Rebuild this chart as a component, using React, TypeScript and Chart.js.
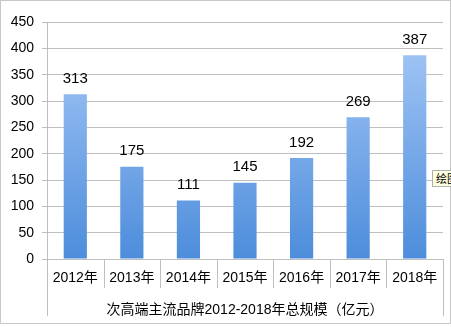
import React, { useEffect, useRef } from "react";
import { Chart, registerables } from "chart.js";

Chart.register(...registerables);

const categories = ["2012年", "2013年", "2014年", "2015年", "2016年", "2017年", "2018年"];
const values = [313, 175, 111, 145, 192, 269, 387];
const axisTitle = "次高端主流品牌2012-2018年总规模（亿元）";
const yMax = 450;
const yStep = 50;

const FONT = '"Liberation Sans", "Noto Sans CJK SC", sans-serif';

const separatorPlugin = {
  id: "separators",
  afterDraw(chart: any) {
    const { ctx, chartArea, scales } = chart;
    const x = scales.x;
    const n = categories.length;
    const w = (chartArea.right - chartArea.left) / n;
    ctx.save();
    ctx.strokeStyle = "#bfbfbf";
    ctx.lineWidth = 1;
    for (let i = 0; i <= n; i++) {
      const px = Math.round(x.getPixelForValue(i) - w / 2) + 0.5;
      const long = i === 0 || i === n;
      ctx.beginPath();
      ctx.moveTo(px, chartArea.bottom);
      ctx.lineTo(px, chartArea.bottom + (long ? 57 : 29));
      ctx.stroke();
    }
    ctx.restore();
  },
};

const labelPlugin = {
  id: "barLabels",
  afterDatasetsDraw(chart: any) {
    const { ctx } = chart;
    const meta = chart.getDatasetMeta(0);
    ctx.save();
    ctx.fillStyle = "#000";
    ctx.font = `15px ${FONT}`;
    ctx.textAlign = "center";
    ctx.textBaseline = "bottom";
    meta.data.forEach((bar: any, i: number) => {
      ctx.fillText(String(values[i]), bar.x, bar.y - 8);
    });
    ctx.restore();
  },
};

export default function App() {
  const ref = useRef<HTMLCanvasElement>(null);
  useEffect(() => {
    document.body.style.margin = "0";
    const canvas = ref.current!;
    const chart = new Chart(canvas, {
      type: "bar",
      data: {
        labels: categories,
        datasets: [
          {
            data: values,
            barPercentage: 0.41,
            categoryPercentage: 1,
            backgroundColor: (c: any) => {
              const el = c.element;
              const area = c.chart.chartArea;
              if (!area || !el) return "#6aa0e4";
              const top = el.y ?? area.top;
              const bottom = el.base ?? area.bottom;
              if (!isFinite(top) || !isFinite(bottom) || top === bottom) return "#6aa0e4";
              const g = c.chart.ctx.createLinearGradient(0, top, 0, bottom);
              g.addColorStop(0, "#aacbf8");
              g.addColorStop(1, "#4d8ddb");
              return g;
            },
            borderWidth: 0,
          },
        ],
      },
      options: {
        animation: false,
        responsive: false,
        maintainAspectRatio: false,
        layout: { padding: { left: 0, right: 8, top: 22, bottom: 8 } },
        plugins: { legend: { display: false }, tooltip: { enabled: false } },
        scales: {
          y: {
            min: 0,
            max: yMax,
            ticks: { stepSize: yStep, color: "#000", font: { family: FONT, size: 14 }, padding: 8 },
            grid: { color: "#bfbfbf", tickLength: 5 },
            border: { color: "#bfbfbf" },
            afterFit: (s: any) => {
              s.width = 47;
            },
          },
          x: {
            grid: { display: false, drawTicks: false },
            border: { color: "#bfbfbf" },
            ticks: { color: "#000", font: { family: FONT, size: 14 }, padding: 11 },
            title: {
              display: true,
              text: axisTitle,
              color: "#000",
              font: { family: FONT, size: 14 },
              padding: { top: 12, bottom: 0 },
            },
            afterFit: (s: any) => {
              s.height = 60;
            },
          },
        },
      },
      plugins: [separatorPlugin, labelPlugin],
    });
    return () => chart.destroy();
  }, []);

  return (
    <div style={{ position: "relative", width: 451, height: 327, overflow: "hidden", background: "#fff" }}>
      <canvas ref={ref} width={451} height={327} style={{ display: "block" }} />
      <div
        style={{
          position: "absolute",
          left: 0,
          top: 0,
          width: 449,
          height: 322,
          border: "1px solid #c8c8c8",
          pointerEvents: "none",
        }}
      />
      <div
        style={{
          position: "absolute",
          left: 432,
          top: 170,
          height: 15,
          padding: "0 3px",
          background: "#ffffe1",
          border: "1px solid #b0b0b0",
          font: `11px "Noto Sans CJK SC", sans-serif`,
          lineHeight: "15px",
          color: "#000",
          whiteSpace: "nowrap",
        }}
      >
        绘图
      </div>
    </div>
  );
}
